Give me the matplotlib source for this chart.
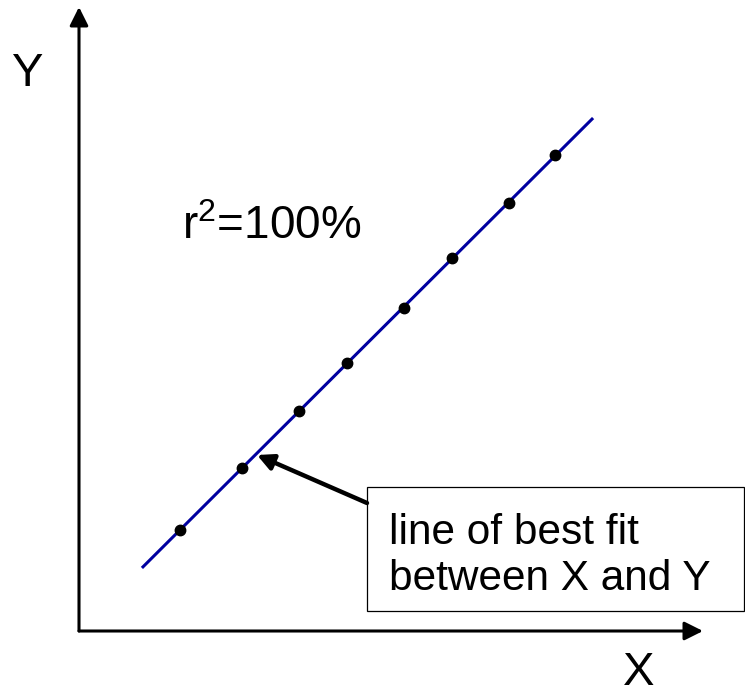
import matplotlib
matplotlib.use("Agg")
import matplotlib.pyplot as plt
from matplotlib.patches import Rectangle
import numpy as np

plt.rcParams['font.family'] = ['Liberation Sans', 'DejaVu Sans']
plt.rcParams['mathtext.fontset'] = 'custom'
plt.rcParams['mathtext.rm'] = 'Liberation Sans'

# data points (arbitrary units, origin at the axes corner)
xs = [10.1, 16.3, 22.0, 26.8, 32.5, 37.3, 43.0, 47.6]
ys = [10.1, 16.3, 22.0, 26.8, 32.3, 37.3, 42.8, 47.6]
fit_range = [6.4, 51.3]

r2_text = r"r$^{\mathregular{2}}$=100%"
box_text = "line of best fit\nbetween X and Y"

fig = plt.figure(figsize=(7.45, 6.97), dpi=100)
ax = fig.add_axes([0, 0, 1, 1])
ax.set_xlim(-7.9, 66.6)
ax.set_ylim(-6.6, 63.1)
ax.axis("off")

# axes with arrow heads
ax.annotate("", xy=(0, 62.4), xytext=(0, 0),
            arrowprops=dict(arrowstyle="-|>", lw=2.2, color="black",
                            mutation_scale=28, shrinkA=0, shrinkB=0))
ax.annotate("", xy=(62.4, 0), xytext=(0, 0),
            arrowprops=dict(arrowstyle="-|>", lw=2.2, color="black",
                            mutation_scale=28, shrinkA=0, shrinkB=0))
ax.text(-5.1, 54.5, "Y", fontsize=34, ha="center", va="baseline")
ax.text(56.0, -5.4, "X", fontsize=34, ha="center", va="baseline")

# best fit line
slope, icpt = np.polyfit(xs, ys, 1)
fx = np.array(fit_range)
ax.plot(fx, slope * fx + icpt, color="#0000a0", lw=2.2, zorder=2)
ax.plot(xs, ys, "o", color="black", markersize=7.5, zorder=3)

ax.text(10.3, 39.2, r2_text, fontsize=33, ha="left", va="baseline")

# label box and pointer
ax.add_patch(Rectangle((28.8, 2.0), 37.7, 12.4, fill=False, lw=0.9,
                       edgecolor="black", clip_on=False))
ax.text(31.0, 4.1, box_text, fontsize=30.5, ha="left", va="baseline",
        linespacing=1.2)
ax.annotate("", xy=(17.8, 17.6), xytext=(28.8, 12.8),
            arrowprops=dict(arrowstyle="-|>", lw=3.2, color="black",
                            mutation_scale=24, shrinkA=0, shrinkB=0))

fig.savefig("out.png", dpi=100)
